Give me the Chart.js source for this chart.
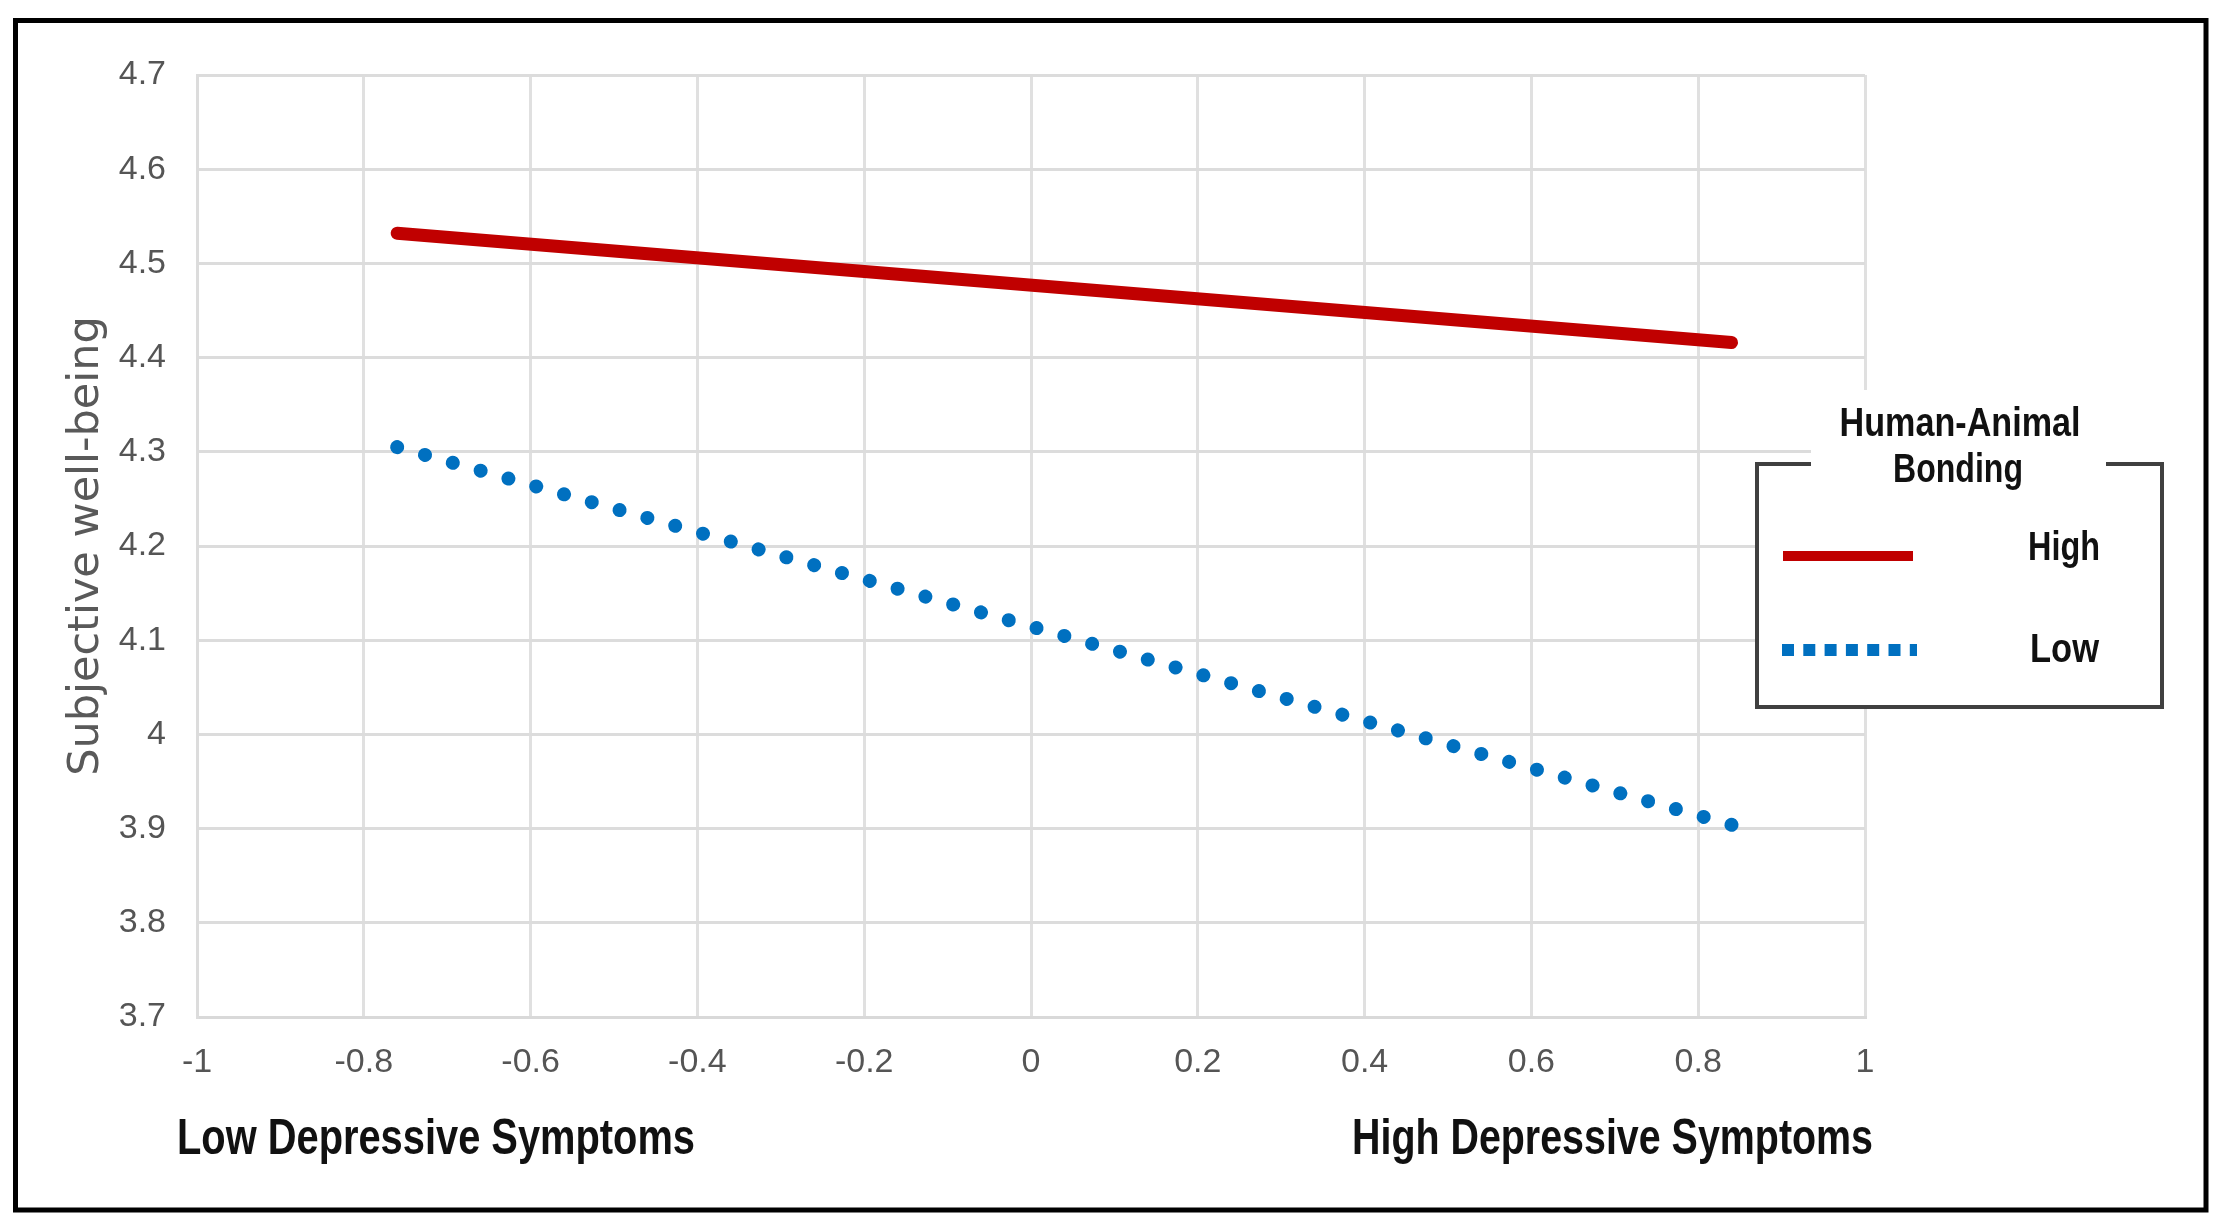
<!DOCTYPE html>
<html>
<head>
<meta charset="utf-8">
<style>
html, body { margin: 0; padding: 0; background: #fff; }
#wrap { position: relative; width: 2220px; height: 1224px; }
</style>
<script src="https://cdn.jsdelivr.net/npm/chart.js@4.4.1/dist/chart.umd.min.js"></script>
</head>
<body>
<div id="wrap"><canvas id="slopeChart" width="2220" height="1224"></canvas></div>
<script>
// Simple slopes: depressive symptoms x human-animal bonding
const xValues = [-0.76, 0.84];
const highBonding = [4.532, 4.416];
const lowBonding = [4.305, 3.904];
const seriesNames = ['High', 'Low'];
const legendTitle = ['Human-Animal', 'Bonding'];

const xTicks = [-1, -0.8, -0.6, -0.4, -0.2, 0, 0.2, 0.4, 0.6, 0.8, 1];
const xTickLabels = ['-1', '-0.8', '-0.6', '-0.4', '-0.2', '0', '0.2', '0.4', '0.6', '0.8', '1'];
const yTicks = [3.7, 3.8, 3.9, 4, 4.1, 4.2, 4.3, 4.4, 4.5, 4.6, 4.7];
const yTickLabels = ['3.7', '3.8', '3.9', '4', '4.1', '4.2', '4.3', '4.4', '4.5', '4.6', '4.7'];
const yTitle = 'Subjective well-being';
const xEndLabels = ['Low Depressive Symptoms', 'High Depressive Symptoms'];

const narrow = "'Liberation Sans Narrow', 'Liberation Sans', Arial, sans-serif";

// draw text squeezed/stretched to a measured width
function fitText(ctx, text, x, y, width, font, align) {
    ctx.save();
    ctx.font = font;
    const w = ctx.measureText(text).width;
    ctx.translate(x, y);
    ctx.scale(width / w, 1);
    ctx.textAlign = 'left';
    ctx.textBaseline = 'alphabetic';
    ctx.fillText(text, align === 'center' ? -w / 2 : 0, 0);
    ctx.restore();
}

const decorations = {
    id: 'decorations',
    afterDraw(chart) {
        const ctx = chart.ctx;
        const sets = chart.data.datasets;

        // outer frame
        ctx.save();
        ctx.strokeStyle = '#000';
        ctx.lineWidth = 5;
        ctx.strokeRect(15.5, 20.5, 2190.5, 1189.5);

        // bottom end labels
        ctx.fillStyle = '#111';
        fitText(ctx, xEndLabels[0], 177, 1154, 518, 'bold 50px ' + narrow);
        fitText(ctx, xEndLabels[1], 1352, 1154, 521, 'bold 50px ' + narrow);

        // legend box
        ctx.fillStyle = '#fff';
        ctx.fillRect(1757, 463, 406, 245);
        ctx.strokeStyle = '#404040';
        ctx.lineWidth = 4;
        ctx.beginPath();
        ctx.moveTo(1811, 464);
        ctx.lineTo(1757, 464);
        ctx.lineTo(1757, 707);
        ctx.lineTo(2162, 707);
        ctx.lineTo(2162, 464);
        ctx.lineTo(2106, 464);
        ctx.stroke();
        ctx.fillStyle = '#fff';
        ctx.fillRect(1811, 390, 295, 80);

        ctx.fillStyle = '#111';
        fitText(ctx, legendTitle[0], 1960, 436, 241, 'bold 40px ' + narrow, 'center');
        fitText(ctx, legendTitle[1], 1958, 482, 130, 'bold 40px ' + narrow, 'center');

        // legend samples
        ctx.lineCap = 'butt';
        ctx.strokeStyle = sets[0].borderColor;
        ctx.lineWidth = 10;
        ctx.beginPath();
        ctx.moveTo(1783, 556);
        ctx.lineTo(1913, 556);
        ctx.stroke();

        ctx.strokeStyle = sets[1].borderColor;
        ctx.lineWidth = 12;
        ctx.setLineDash([12, 9.3]);
        ctx.beginPath();
        ctx.moveTo(1782, 650);
        ctx.lineTo(1917, 650);
        ctx.stroke();
        ctx.setLineDash([]);

        ctx.fillStyle = '#111';
        fitText(ctx, sets[0].label, 2028, 560, 72, 'bold 41px ' + narrow);
        fitText(ctx, sets[1].label, 2030, 662, 69, 'bold 41px ' + narrow);
        ctx.restore();
    }
};

const ctx = document.getElementById('slopeChart').getContext('2d');
new Chart(ctx, {
    type: 'line',
    data: {
        datasets: [{
            label: seriesNames[0],
            data: xValues.map((x, i) => ({ x: x, y: highBonding[i] })),
            borderColor: '#C00000',
            borderWidth: 13,
            borderCapStyle: 'round',
            pointRadius: 0,
            fill: false
        }, {
            label: seriesNames[1],
            data: xValues.map((x, i) => ({ x: x, y: lowBonding[i] })),
            borderColor: '#0070C0',
            borderWidth: 14,
            borderCapStyle: 'round',
            borderDash: [0.1, 28.79],
            pointRadius: 0,
            fill: false
        }]
    },
    options: {
        responsive: false,
        animation: false,
        devicePixelRatio: 1,
        layout: { padding: { left: 0, top: 75, right: 355, bottom: 0 } },
        plugins: { legend: { display: false }, tooltip: { enabled: false } },
        scales: {
            x: {
                type: 'linear',
                min: -1,
                max: 1,
                afterBuildTicks: scale => { scale.ticks = xTicks.map(v => ({ value: v })); },
                afterFit: scale => { scale.height = 207; },
                grid: { color: '#E0E0E0', lineWidth: 3, drawTicks: false },
                border: { color: '#D9D9D9', width: 3 },
                ticks: {
                    padding: 25,
                    maxRotation: 0,
                    autoSkip: false,
                    color: '#555555',
                    font: { family: narrow, size: 34 },
                    callback: (v, i) => xTickLabels[i]
                }
            },
            y: {
                type: 'linear',
                min: 3.7,
                max: 4.7,
                afterBuildTicks: scale => { scale.ticks = yTicks.map(v => ({ value: v })); },
                afterFit: scale => { scale.width = 197; },
                grid: { color: '#DCDCDC', lineWidth: 3, drawTicks: false },
                border: { color: '#DCDCDC', width: 3 },
                title: {
                    display: true,
                    text: yTitle,
                    color: '#595959',
                    font: { family: "'DejaVu Sans', sans-serif", size: 43 },
                    padding: { top: 61, bottom: 0 }
                },
                ticks: {
                    padding: 31,
                    autoSkip: false,
                    color: '#555555',
                    font: { family: narrow, size: 34 },
                    callback: (v, i) => yTickLabels[i]
                }
            }
        }
    },
    plugins: [decorations]
});
</script>
</body>
</html>
